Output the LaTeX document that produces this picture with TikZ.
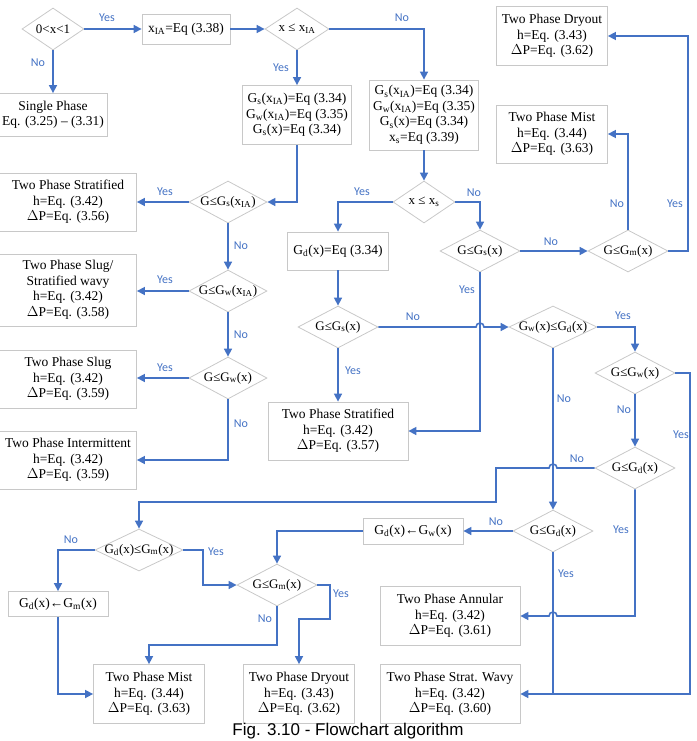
\documentclass[tikz,border=0pt]{standalone}
\usepackage{fontspec}
\setmainfont{Liberation Serif}
\newfontfamily\lblfont{Carlito}
\newfontfamily\capfont{Liberation Sans}
\usetikzlibrary{shapes.geometric,arrows.meta}
\definecolor{fblue}{RGB}{68,114,196}
\definecolor{fgray}{RGB}{200,200,200}
\newcommand{\sub}[1]{\textsubscript{#1}}
\tikzset{
 box/.style={draw=fgray,line width=0.8pt,align=center,font=\fontsize{13.5}{15.5}\selectfont,inner sep=1pt},
 dec/.style={draw=fgray,line width=0.8pt,diamond,inner sep=0pt},
 dtxt/.style={font=\fontsize{13}{15}\selectfont,inner sep=0pt},
 con/.style={draw=fblue,line width=1.6pt,-{Triangle[length=8pt,width=8pt]}},
 ln/.style={draw=fblue,line width=1.6pt},
 lbl/.style={text=fblue,font=\lblfont\fontsize{12}{14}\selectfont}
}
\newcommand{\decnode}[5]{\node[dec,minimum width=#3,minimum height=42] (#1) at (#2) {};
 \node[dtxt] (#1t) at (#2) {#4};}
\begin{document}
\begin{tikzpicture}[x=1pt,y=-1pt]
\useasboundingbox (0,0) rectangle (696,741);
% boxes
\node[box,minimum width=88,minimum height=30] (b1) at (186,29) {x\sub{IA}=Eq (3.38)};
\node[box,minimum width=108,minimum height=43] (single) at (53,115) {Single Phase\\Eq. (3.25) -- (3.31)};
\node[box,minimum width=109,minimum height=59] (b2) at (297,115) {G\sub{s}(x\sub{IA})=Eq (3.34)\\G\sub{w}(x\sub{IA})=Eq (3.35)\\G\sub{s}(x)=Eq (3.34)};
\node[box,minimum width=109,minimum height=70] (b3) at (424,115) {G\sub{s}(x\sub{IA})=Eq (3.34)\\G\sub{w}(x\sub{IA})=Eq (3.35)\\G\sub{s}(x)=Eq (3.34)\\x\sub{s}=Eq (3.39)};
\node[box,minimum width=111,minimum height=59] (dry1) at (552,36) {Two Phase Dryout\\h=Eq. (3.43)\\$\Delta$P=Eq. (3.62)};
\node[box,minimum width=111,minimum height=58] (mist1) at (552,134) {Two Phase Mist\\h=Eq. (3.44)\\$\Delta$P=Eq. (3.63)};
\node[box,minimum width=137,minimum height=58] (strat1) at (68,202) {Two Phase Stratified\\h=Eq. (3.42)\\$\Delta$P=Eq. (3.56)};
\node[box,minimum width=137,minimum height=72] (slugs) at (68,290) {Two Phase Slug/\\Stratified wavy\\h=Eq. (3.42)\\$\Delta$P=Eq. (3.58)};
\node[box,minimum width=137,minimum height=58] (slug) at (68,379) {Two Phase Slug\\h=Eq. (3.42)\\$\Delta$P=Eq. (3.59)};
\node[box,minimum width=137,minimum height=58] (inter) at (68,460) {Two Phase Intermittent\\h=Eq. (3.42)\\$\Delta$P=Eq. (3.59)};
\node[box,minimum width=101,minimum height=38] (gd) at (338,251) {G\sub{d}(x)=Eq (3.34)};
\node[box,minimum width=140,minimum height=58] (strat2) at (338,431) {Two Phase Stratified\\h=Eq. (3.42)\\$\Delta$P=Eq. (3.57)};
\node[box,minimum width=100,minimum height=26] (gdgw) at (413,531) {G\sub{d}(x)←G\sub{w}(x)};
\node[box,minimum width=100,minimum height=25] (gdgm) at (58,604) {G\sub{d}(x)←G\sub{m}(x)};
\node[box,minimum width=140,minimum height=59] (ann) at (450,616) {Two Phase Annular\\h=Eq. (3.42)\\$\Delta$P=Eq. (3.61)};
\node[box,minimum width=111,minimum height=59] (mist2) at (149,694) {Two Phase Mist\\h=Eq. (3.44)\\$\Delta$P=Eq. (3.63)};
\node[box,minimum width=111,minimum height=59] (dry2) at (299,694) {Two Phase Dryout\\h=Eq. (3.43)\\$\Delta$P=Eq. (3.62)};
\node[box,minimum width=140,minimum height=59] (wavy) at (450,694) {Two Phase Strat. Wavy\\h=Eq. (3.42)\\$\Delta$P=Eq. (3.60)};
% decisions
\decnode{d1}{53,29}{62}{0<x<1}{}
\decnode{d2}{297,29}{64}{x ≤ x\sub{IA}}{}
\decnode{dgsia}{228,202}{78}{G≤G\sub{s}(x\sub{IA})}{}
\decnode{dgwia}{228,291}{78}{G≤G\sub{w}(x\sub{IA})}{}
\decnode{dgwx}{228,378}{78}{G≤G\sub{w}(x)}{}
\decnode{dxs}{424,202}{62}{x ≤ x\sub{s}}{}
\decnode{dgs1}{480,251}{80}{G≤G\sub{s}(x)}{}
\decnode{dgm1}{628,251}{80}{G≤G\sub{m}(x)}{}
\decnode{dgs2}{338,327}{80}{G≤G\sub{s}(x)}{}
\decnode{dgwgd}{553,327}{88}{G\sub{w}(x)≤G\sub{d}(x)}{}
\decnode{dgwx2}{635,373}{80}{G≤G\sub{w}(x)}{}
\decnode{dgd1}{635,468}{80}{G≤G\sub{d}(x)}{}
\decnode{dgd2}{553,531}{80}{G≤G\sub{d}(x)}{}
\decnode{dgdgm}{139,550}{88}{G\sub{d}(x)≤G\sub{m}(x)}{}
\decnode{dgm2}{277,585}{80}{G≤G\sub{m}(x)}{}
% connectors
\draw[con] (d1) -- (b1);
\draw[con] (d1) -- (single);
\draw[con] (b1) -- (d2);
\draw[con] (d2) -- (b2);
\draw[con] (d2.east) -| (b3.north);
\draw[con] (b2.south) |- (dgsia.east);
\draw[con] (dgsia) -- (strat1);
\draw[con] (dgsia) -- (dgwia);
\draw[con] (dgwia) -- (slugs.east |- dgwia);
\draw[con] (dgwia) -- (dgwx);
\draw[con] (dgwx) -- (slug.east |- dgwx);
\draw[con] (dgwx.south) |- (inter.east);
\draw[con] (b3) -- (dxs);
\draw[con] (dxs.west) -| (gd.north);
\draw[con] (dxs.east) -| (dgs1.north);
\draw[con] (dgs1) -- (dgm1);
\draw[con] (dgm1.north) |- (mist1.east);
\draw[con] (dgm1.east) -- (688,251) |- (dry1.east);
\draw[con] (dgs1.south) |- (strat2.east);
\draw[con] (gd) -- (dgs2);
\draw[con] (dgs2) -- (strat2);
\draw[con] (dgs2.east) -- (476,327) arc (180:360:4) -- (dgwgd.west);
\draw[con] (dgwgd.east) -| (dgwx2.north);
\draw[con] (dgwgd) -- (dgd2);
\draw[con] (dgwx2) -- (dgd1);
\draw[con] (dgwx2.east) -- (690,373) |- (wavy.east);
\draw[ln] (dgd2.south) -- (553,694);
\draw[con] (dgd1.south) -- (635,616) -- (557,616) arc (0:-180:4) -- (ann.east);
\draw[con] (dgd1.west) -- (557,468) arc (0:-180:4) -- (496,468) -- (496,502) -| (dgdgm.north);
\draw[con] (dgd2) -- (gdgw);
\draw[con] (gdgw.west) -| (dgm2.north);
\draw[con] (dgdgm.west) -| (gdgm.north);
\draw[con] (dgdgm.east) -- (203,550) |- (dgm2.west);
\draw[con] (gdgm.south) |- (mist2.west);
\draw[con] (dgm2.south) -- (277,645) -| (mist2.north);
\draw[con] (dgm2.east) -- (330,585) -- (330,619) -| (dry2.north);
% labels
\node[lbl] (l1) at (107,18) {Yes};
\node[lbl] (l2) at (38,63) {No};
\node[lbl] (l3) at (402,18) {No};
\node[lbl] (l4) at (281,68) {Yes};
\node[lbl] (l5) at (165,192) {Yes};
\node[lbl] (l6) at (241,246) {No};
\node[lbl] (l7) at (165,280) {Yes};
\node[lbl] (l8) at (241,335) {No};
\node[lbl] (l9) at (165,368) {Yes};
\node[lbl] (l10) at (241,424) {No};
\node[lbl] (l11) at (362,192) {Yes};
\node[lbl] (l12) at (474,193) {No};
\node[lbl] (l13) at (551,242) {No};
\node[lbl] (l14) at (467,290) {Yes};
\node[lbl] (l15) at (617,204) {No};
\node[lbl] (l16) at (675,204) {Yes};
\node[lbl] (l17) at (413,317) {No};
\node[lbl] (l18) at (353,371) {Yes};
\node[lbl] (l19) at (623,316) {Yes};
\node[lbl] (l20) at (564,399) {No};
\node[lbl] (l21) at (624,410) {No};
\node[lbl] (l22) at (681,435) {Yes};
\node[lbl] (l23) at (577,459) {No};
\node[lbl] (l24) at (621,530) {Yes};
\node[lbl] (l25) at (496,522) {No};
\node[lbl] (l26) at (566,574) {Yes};
\node[lbl] (l27) at (71,540) {No};
\node[lbl] (l28) at (216,552) {Yes};
\node[lbl] (l29) at (341,594) {Yes};
\node[lbl] (l30) at (265,619) {No};
\node[font=\capfont\fontsize{17}{19}\selectfont] (cap) at (348,731) {Fig. 3.10 - Flowchart algorithm};
\end{tikzpicture}
\end{document}
